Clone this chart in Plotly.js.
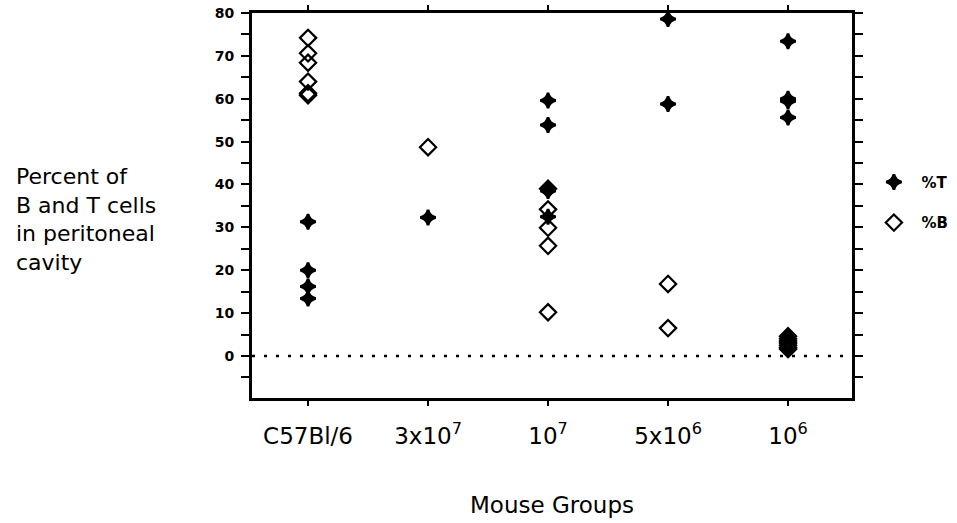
<!DOCTYPE html>
<html><head><meta charset="utf-8">
<script src="https://cdn.plot.ly/plotly-3.0.1.min.js"></script>
<style>html,body{margin:0;padding:0;background:#fff;}#chart{width:957px;height:523px;}</style>
</head><body><div id="chart"></div>
<script>
const categories = ['C57Bl/6', '3x10<sup>7</sup>', '10<sup>7</sup>', '5x10<sup>6</sup>', '10<sup>6</sup>'];
const yTickVals = [0, 10, 20, 30, 40, 50, 60, 70, 80];
const yMinorVals = [-5, 5, 15, 25, 35, 45, 55, 65, 75];

// %T values per group
const tC57 = [31.3, 20, 16.2, 13.4];
const t3e7 = [32.3];
const t1e7 = [59.6, 53.9, 39, 38.5, 32.5];
const t5e6 = [78.6, 58.8];
const t1e6 = [73.4, 60, 59.4, 55.6];

// %B values per group
const bC57 = [74.2, 70.6, 68.4, 64, 61.3, 60.8];
const b3e7 = [48.7];
const b1e7 = [39, 34.2, 29.9, 25.7, 10.2];
const b5e6 = [16.8, 6.5];
const b1e6 = [4.6, 4, 3.5, 3, 2.5, 2, 1.6];

const tGroups = [tC57, t3e7, t1e7, t5e6, t1e6];
const bGroups = [bC57, b3e7, b1e7, b5e6, b1e6];

function flatten(groups){
  const x = [], y = [];
  groups.forEach((g, i) => g.forEach(v => { x.push(i); y.push(v); }));
  return {x, y};
}
const T = flatten(tGroups), B = flatten(bGroups);

const FONT = 'DejaVu Sans, Liberation Sans, Arial, sans-serif';

const traces = [
  {x: T.x, y: T.y, type: 'scatter', mode: 'markers', name: '%T', legendgroup: 't',
   marker: {symbol: 'star-diamond', size: 11, color: '#000', line: {color: '#000', width: 2.6}}},
  {x: B.x, y: B.y, type: 'scatter', mode: 'markers', name: '%B', legendgroup: 'b',
   marker: {symbol: 'diamond-open', size: 12.5, color: '#000', line: {color: '#000', width: 2.2}}}
];

const layout = {
  width: 957, height: 523,
  margin: {l: 252, r: 105, t: 13, b: 125, autoexpand: false},
  paper_bgcolor: '#fff', plot_bgcolor: '#fff',
  font: {family: FONT, color: '#000'},
  showlegend: true,
  legend: {x: 1.024, y: 0.603, xanchor: 'left', yanchor: 'top', tracegroupgap: 18, itemwidth: 45,
           font: {size: 15, family: FONT, weight: 'bold'},
           bgcolor: 'rgba(0,0,0,0)'},
  xaxis: {
    range: [-0.467, 4.533], tickvals: [0, 1, 2, 3, 4], ticktext: categories,
    showgrid: false, zeroline: false, showline: true, linecolor: '#000', linewidth: 3,
    mirror: 'ticks', ticks: 'outside', ticklen: 5, tickwidth: 2, tickcolor: '#000',
    tickfont: {size: 23, family: FONT}, ticklabelstandoff: 10,
    title: {text: 'Mouse Groups', font: {size: 23, family: FONT}, standoff: 50}
  },
  yaxis: {
    range: [-9.8, 80], tickvals: yTickVals, showgrid: false, zeroline: false,
    showline: true, linecolor: '#000', linewidth: 3, mirror: 'ticks',
    ticks: 'outside', ticklen: 8, tickwidth: 2, tickcolor: '#000',
    tickfont: {size: 14, weight: 'bold', family: FONT}, ticklabelstandoff: 4,
    minor: {tickvals: yMinorVals, ticks: 'outside', ticklen: 8, tickwidth: 2, tickcolor: '#000'}
  },
  shapes: [
    {type: 'line', xref: 'paper', yref: 'y', x0: 0, x1: 1, y0: 0, y1: 0,
     line: {color: '#000', width: 2.5, dash: '3px,9px'}}
  ],
  annotations: [
    {xref: 'paper', yref: 'paper', x: -0.397, y: 0.6126, xanchor: 'left', yanchor: 'top', align: 'left',
     showarrow: false, font: {size: 22, family: FONT},
     text: 'Percent of<br>B and T cells<br>in peritoneal<br>cavity'}
  ]
};

Plotly.newPlot('chart', traces, layout, {displayModeBar: false, staticPlot: true});
</script></body></html>
